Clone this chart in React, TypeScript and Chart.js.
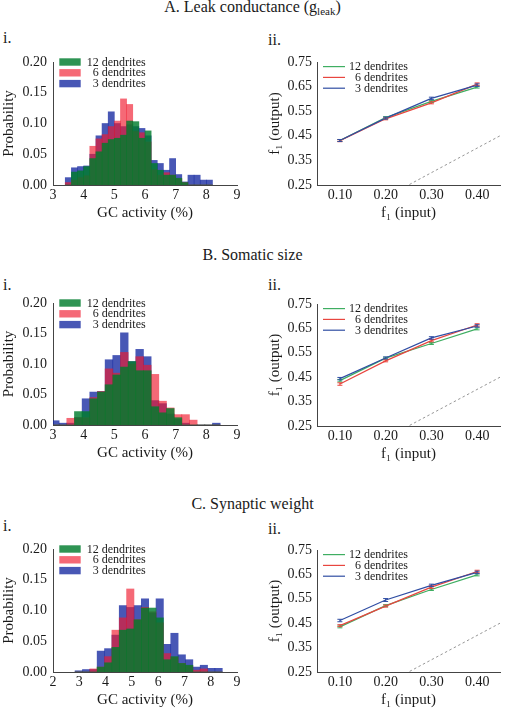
import React, { useEffect, useRef } from "react";
import { Chart, registerables } from "chart.js";

Chart.register(...registerables);

const FONT = "'Liberation Serif', 'Times New Roman', 'DejaVu Serif', serif";
const TXT = "#1a1a1a";
const AXIS = "#444444";

// ---------- labels ----------
const SERIES_LABELS = ["12 dendrites", "6 dendrites", "3 dendrites"];
const HIST_X_TICKS_AB = [3, 4, 5, 6, 7, 8, 9];
const HIST_X_TICKS_C = [2, 3, 4, 5, 6, 7, 8, 9];
const PROB_TICKS = [0, 0.05, 0.1, 0.15, 0.2];
const F_X_TICKS = [0.1, 0.2, 0.3, 0.4];
const F_Y_TICKS = [0.25, 0.35, 0.45, 0.55, 0.65, 0.75];

// ---------- histograms (bin centres, probability) ----------
const A_BINS = [3.5, 3.7, 3.9, 4.1, 4.3, 4.5, 4.7, 4.9, 5.1, 5.3, 5.5, 5.7, 5.9, 6.1, 6.3, 6.5, 6.7, 6.9, 7.1, 7.3, 7.5, 7.7, 7.9, 8.1];
const A_HIST_12 = [0, 0.021, 0.023, 0.03, 0.043, 0.054, 0.068, 0.074, 0.076, 0.081, 0.104, 0.103, 0.076, 0.088, 0.035, 0.024, 0.016, 0.016, 0.011, 0.004, 0, 0, 0, 0];
const A_HIST_6 = [0.004, 0.008, 0.012, 0.015, 0.063, 0.075, 0.082, 0.095, 0.104, 0.14, 0.131, 0.087, 0.085, 0.07, 0.025, 0.016, 0.02, 0.016, 0.01, 0.004, 0, 0, 0, 0];
const A_HIST_3 = [0.012, 0.028, 0.03, 0.031, 0.05, 0.08, 0.1, 0.119, 0.1, 0.095, 0.098, 0.095, 0.092, 0.08, 0.04, 0.035, 0.024, 0.043, 0.017, 0.005, 0.016, 0.016, 0.008, 0.008];

const B_BINS = [3.075, 3.325, 3.575, 3.825, 4.075, 4.325, 4.575, 4.825, 5.075, 5.325, 5.575, 5.825, 6.075, 6.325, 6.575, 6.825, 7.075, 7.325, 7.575, 7.825, 8.075, 8.325];
const B_HIST_12 = [0, 0, 0, 0.022, 0.022, 0.043, 0.054, 0.066, 0.082, 0.095, 0.104, 0.089, 0.089, 0.03, 0.02, 0.027, 0.012, 0, 0, 0, 0, 0];
const B_HIST_6 = [0, 0, 0.011, 0.012, 0.012, 0.045, 0.055, 0.092, 0.085, 0.119, 0.1, 0.112, 0.098, 0.083, 0.039, 0.028, 0.017, 0.017, 0.008, 0, 0, 0];
const B_HIST_3 = [0.007, 0.003, 0.003, 0.012, 0.043, 0.054, 0.055, 0.107, 0.114, 0.151, 0.104, 0.124, 0.112, 0.04, 0.035, 0.018, 0.01, 0.003, 0, 0, 0, 0.003];

const C_BINS = [2.98, 3.26, 3.54, 3.82, 4.1, 4.38, 4.66, 4.94, 5.22, 5.5, 5.78, 6.06, 6.34, 6.62, 6.9, 7.18, 7.46, 7.74, 8.02, 8.3];
const C_HIST_12 = [0, 0, 0, 0.008, 0.015, 0.04, 0.068, 0.07, 0.085, 0.104, 0.104, 0.088, 0.02, 0.025, 0.014, 0.011, 0, 0, 0, 0];
const C_HIST_6 = [0, 0, 0.005, 0.008, 0.025, 0.068, 0.088, 0.135, 0.085, 0.105, 0.098, 0.08, 0.03, 0.024, 0.014, 0.01, 0.003, 0.005, 0, 0];
const C_HIST_3 = [0.002, 0.004, 0.004, 0.034, 0.038, 0.06, 0.108, 0.105, 0.108, 0.119, 0.096, 0.119, 0.045, 0.063, 0.028, 0.02, 0.008, 0.011, 0.006, 0.006];

// ---------- f1 output vs input ----------
const F_INPUT = [0.1, 0.2, 0.3, 0.4];
const IDENTITY = [0.05, 0.45];

const A_OUT_12 = [0.431, 0.524, 0.59, 0.648];
const A_OUT_6 = [0.43, 0.519, 0.584, 0.66];
const A_OUT_3 = [0.431, 0.522, 0.602, 0.656];
const A_ERR_12 = [0.004, 0.004, 0.004, 0.004];
const A_ERR_6 = [0.004, 0.004, 0.004, 0.005];
const A_ERR_3 = [0.004, 0.004, 0.005, 0.005];

const B_OUT_12 = [0.436, 0.528, 0.588, 0.648];
const B_OUT_6 = [0.422, 0.517, 0.6, 0.664];
const B_OUT_3 = [0.444, 0.529, 0.611, 0.66];
const B_ERR_12 = [0.005, 0.004, 0.004, 0.004];
const B_ERR_6 = [0.005, 0.004, 0.005, 0.005];
const B_ERR_3 = [0.005, 0.004, 0.005, 0.005];

const C_OUT_12 = [0.435, 0.522, 0.588, 0.648];
const C_OUT_6 = [0.44, 0.52, 0.598, 0.662];
const C_OUT_3 = [0.461, 0.545, 0.605, 0.658];
const C_ERR_12 = [0.004, 0.004, 0.004, 0.004];
const C_ERR_6 = [0.004, 0.004, 0.005, 0.005];
const C_ERR_3 = [0.005, 0.006, 0.005, 0.005];

// ---------- styles ----------
const HIST_COLORS = ["rgba(0,125,45,0.82)", "rgba(240,25,45,0.65)", "rgba(20,40,160,0.78)"];
const LINE_COLORS = ["#3fae62", "#e8463f", "#2f4da3"];

// ---------- plugins ----------
const cornerLegend = {
  id: "cornerLegend",
  afterDatasetsDraw(chart: any, _args: any, opts: any) {
    if (!opts || !opts.kind) return;
    const { ctx, chartArea } = chart;
    ctx.save();
    ctx.font = `12px ${FONT}`;
    ctx.textBaseline = "middle";
    ctx.textAlign = "right";
    let i = 0;
    chart.data.datasets.forEach((ds: any) => {
      if (!ds.label) return;
      const y = chartArea.top + opts.dy + i * opts.step;
      if (opts.kind === "box") {
        ctx.fillStyle = ds.backgroundColor;
        ctx.fillRect(chartArea.left + opts.x0, y - 3.7, opts.x1 - opts.x0, 7.4);
      } else {
        ctx.strokeStyle = ds.borderColor;
        ctx.lineWidth = 1.2;
        ctx.beginPath();
        ctx.moveTo(chartArea.left + opts.x0, y);
        ctx.lineTo(chartArea.left + opts.x1, y);
        ctx.stroke();
      }
      ctx.fillStyle = TXT;
      ctx.fillText(ds.label, chartArea.left + opts.tx, y + 0.5);
      i++;
    });
    ctx.restore();
  },
};

const errorBars = {
  id: "errorBars",
  afterDatasetsDraw(chart: any) {
    const { ctx } = chart;
    const xs = chart.scales.x;
    const ys = chart.scales.y;
    ctx.save();
    chart.data.datasets.forEach((ds: any) => {
      if (!ds.errors) return;
      ctx.strokeStyle = ds.borderColor;
      ctx.lineWidth = 1;
      ds.data.forEach((p: any, i: number) => {
        const e = ds.errors[i];
        const px = xs.getPixelForValue(p.x);
        const t = ys.getPixelForValue(p.y + e);
        const b = ys.getPixelForValue(p.y - e);
        ctx.beginPath();
        ctx.moveTo(px, t);
        ctx.lineTo(px, b);
        ctx.moveTo(px - 2.5, t);
        ctx.lineTo(px + 2.5, t);
        ctx.moveTo(px - 2.5, b);
        ctx.lineTo(px + 2.5, b);
        ctx.stroke();
      });
    });
    ctx.restore();
  },
};

// ---------- layout ----------
const PAD_TOP = 22;
const XAXIS_H = 37;
const LEFT_CANVAS = { left: 0, width: 250, yAxisW: 53, padRight: 13 };
const RIGHT_CANVAS = { left: 250, width: 255, yAxisW: 67, padRight: 5 };
const ROWS = [
  { histTop: 62, histBottom: 185, lineTop: 62, lineBottom: 185 },
  { histTop: 303, histBottom: 425, lineTop: 304, lineBottom: 426 },
  { histTop: 549, histBottom: 672, lineTop: 550, lineBottom: 672 },
];

const tickFont = { family: FONT, size: 14 };
const titleFont = { family: FONT, size: 15 };

function axisBase(ticks: number[], fmt: (v: number) => string, padding: number) {
  return {
    type: "linear" as const,
    grid: { display: false, drawTicks: false, tickLength: 0 },
    border: { display: true, color: AXIS, width: 1 },
    ticks: {
      color: TXT,
      font: tickFont,
      padding,
      autoSkip: false,
      maxRotation: 0,
      callback: (v: any) => fmt(Number(v)),
    },
    afterBuildTicks: (s: any) => {
      s.ticks = ticks.map((v) => ({ value: v }));
    },
  };
}

function histConfig(bins: number[], series: number[][], xMin: number, xTicks: number[]) {
  return {
    type: "bar",
    data: {
      datasets: series.map((vals, k) => ({
        label: SERIES_LABELS[k],
        data: bins.map((x, i) => ({ x, y: vals[i] })),
        backgroundColor: HIST_COLORS[k],
        borderWidth: 0,
        barPercentage: 1,
        categoryPercentage: 1,
        grouped: false,
        order: k,
      })),
    },
    options: {
      responsive: false,
      animation: false,
      devicePixelRatio: 1,
      layout: { padding: { top: PAD_TOP, left: 0, right: LEFT_CANVAS.padRight, bottom: 0 } },
      plugins: {
        legend: { display: false },
        tooltip: { enabled: false },
        cornerLegend: { kind: "box", x0: 6.3, x1: 27.7, tx: 92.7, dy: 0, step: 10.8 },
      },
      scales: {
        x: {
          ...axisBase(xTicks, (v) => String(v), 2),
          min: xMin,
          max: 9,
          offset: false,
          afterFit: (s: any) => {
            s.height = XAXIS_H;
          },
          title: { display: true, text: "GC activity (%)", color: TXT, font: titleFont, padding: { top: 0, bottom: 0 } },
        },
        y: {
          ...axisBase(PROB_TICKS, (v) => v.toFixed(2), 6),
          min: 0,
          max: 0.2,
          afterFit: (s: any) => {
            s.width = LEFT_CANVAS.yAxisW;
          },
          title: { display: true, text: "Probability", color: TXT, font: titleFont, padding: { top: 0.5, bottom: 0 } },
        },
      },
    },
    plugins: [cornerLegend],
  };
}

function lineConfig(outs: number[][], errs: number[][]) {
  const drawOrder = [2, 1, 0];
  const datasets: any[] = outs.map((vals, k) => ({
    label: SERIES_LABELS[k],
    data: F_INPUT.map((x, i) => ({ x, y: vals[i] })),
    errors: errs[k],
    borderColor: LINE_COLORS[k],
    backgroundColor: LINE_COLORS[k],
    borderWidth: 1.2,
    pointRadius: 0,
    tension: 0,
    order: drawOrder[k],
  }));
  datasets.push({
    label: "",
    data: IDENTITY.map((v) => ({ x: v, y: v })),
    borderColor: "#8a8a8a",
    borderWidth: 0.9,
    borderDash: [2.5, 2.5],
    pointRadius: 0,
    order: 5,
  });
  return {
    type: "line",
    data: { datasets },
    options: {
      responsive: false,
      animation: false,
      devicePixelRatio: 1,
      layout: { padding: { top: PAD_TOP, left: 0, right: RIGHT_CANVAS.padRight, bottom: 0 } },
      plugins: {
        legend: { display: false },
        tooltip: { enabled: false },
        cornerLegend: { kind: "line", x0: 6, x1: 28, tx: 91, dy: 4.6, step: 10.8 },
      },
      scales: {
        x: {
          ...axisBase(F_X_TICKS, (v) => v.toFixed(2), 2),
          min: 0.05,
          max: 0.45,
          afterFit: (s: any) => {
            s.height = XAXIS_H;
          },
          title: { display: true, text: "f\u2081 (input)", color: TXT, font: titleFont, padding: { top: 0, bottom: 0 } },
        },
        y: {
          ...axisBase(F_Y_TICKS, (v) => v.toFixed(2), 5),
          min: 0.25,
          max: 0.75,
          afterFit: (s: any) => {
            s.width = RIGHT_CANVAS.yAxisW;
          },
          title: { display: true, text: "f\u2081 (output)", color: TXT, font: titleFont, padding: { top: 16, bottom: 0 } },
        },
      },
    },
    plugins: [cornerLegend, errorBars],
  };
}

function ChartCanvas(props: { left: number; top: number; width: number; height: number; make: () => any }) {
  const ref = useRef<HTMLCanvasElement>(null);
  useEffect(() => {
    const chart = new Chart(ref.current as HTMLCanvasElement, props.make());
    return () => chart.destroy();
  }, []);
  return (
    <canvas
      ref={ref}
      width={props.width}
      height={props.height}
      style={{ position: "absolute", left: props.left, top: props.top, width: props.width, height: props.height }}
    />
  );
}

function Label(props: { x?: number; baseline: number; center?: boolean; size?: number; children: any }) {
  const size = props.size || 16;
  const top = props.baseline - size * 0.84;
  return (
    <div
      style={{
        position: "absolute",
        left: props.center ? 0 : props.x,
        width: props.center ? 505 : undefined,
        textAlign: props.center ? "center" : "left",
        top,
        fontSize: size,
        lineHeight: `${size}px`,
        whiteSpace: "nowrap",
        color: TXT,
        fontFamily: FONT,
      }}
    >
      {props.children}
    </div>
  );
}

const sub = { fontSize: 11, position: "relative" as const, top: 3 };

export default function App() {
  const histData = [
    { bins: A_BINS, s: [A_HIST_12, A_HIST_6, A_HIST_3], xMin: 3, ticks: HIST_X_TICKS_AB },
    { bins: B_BINS, s: [B_HIST_12, B_HIST_6, B_HIST_3], xMin: 3, ticks: HIST_X_TICKS_AB },
    { bins: C_BINS, s: [C_HIST_12, C_HIST_6, C_HIST_3], xMin: 2, ticks: HIST_X_TICKS_C },
  ];
  const lineData = [
    { o: [A_OUT_12, A_OUT_6, A_OUT_3], e: [A_ERR_12, A_ERR_6, A_ERR_3] },
    { o: [B_OUT_12, B_OUT_6, B_OUT_3], e: [B_ERR_12, B_ERR_6, B_ERR_3] },
    { o: [C_OUT_12, C_OUT_6, C_OUT_3], e: [C_ERR_12, C_ERR_6, C_ERR_3] },
  ];
  return (
    <div style={{ position: "absolute", left: 0, top: 0, width: 505, height: 712, background: "#fff", overflow: "hidden" }}>
      <Label center baseline={12.7}>
        A. Leak conductance (g<span style={sub}>leak</span>)
      </Label>
      <Label center baseline={260.7}>B. Somatic size</Label>
      <Label center baseline={509}>C. Synaptic weight</Label>

      <Label x={3} baseline={43.5}>i.</Label>
      <Label x={268} baseline={45.5}>ii.</Label>
      <Label x={3} baseline={290}>i.</Label>
      <Label x={268} baseline={290}>ii.</Label>
      <Label x={3} baseline={531.7}>i.</Label>
      <Label x={268} baseline={534}>ii.</Label>

      {ROWS.map((r, i) => {
        const hTop = r.histTop - PAD_TOP;
        const hH = r.histBottom + XAXIS_H - hTop;
        const lTop = r.lineTop - PAD_TOP;
        const lH = r.lineBottom + XAXIS_H - lTop;
        const h = histData[i];
        const l = lineData[i];
        return (
          <React.Fragment key={i}>
            <ChartCanvas
              left={LEFT_CANVAS.left}
              top={hTop}
              width={LEFT_CANVAS.width}
              height={hH}
              make={() => histConfig(h.bins, h.s, h.xMin, h.ticks)}
            />
            <ChartCanvas
              left={RIGHT_CANVAS.left}
              top={lTop}
              width={RIGHT_CANVAS.width}
              height={lH}
              make={() => lineConfig(l.o, l.e)}
            />
          </React.Fragment>
        );
      })}
    </div>
  );
}
